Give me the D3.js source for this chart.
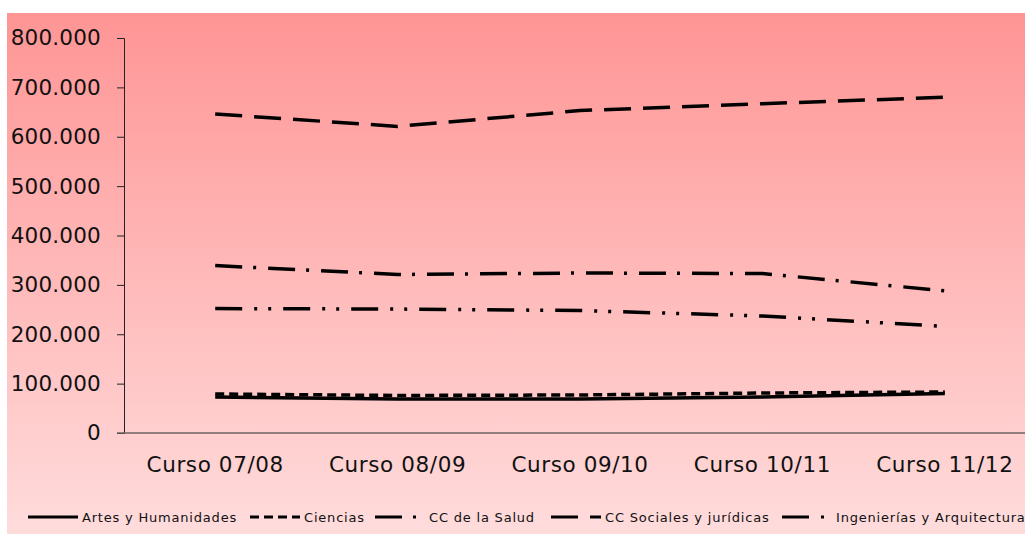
<!DOCTYPE html>
<html><head><meta charset="utf-8">
<script src="https://cdn.jsdelivr.net/npm/d3@7/dist/d3.min.js"></script>
<style>body{margin:0;background:#fff}svg{display:block}</style>
</head><body><svg id="c" width="1025" height="534"></svg>
<script>
const categories = ["Curso 07/08","Curso 08/09","Curso 09/10","Curso 10/11","Curso 11/12"];
const seriesNames = ["Artes y Humanidades","Ciencias","CC de la Salud","CC Sociales y jurídicas","Ingenierías y Arquitectura"];
const artes     = [73000, 69000, 69000, 73000, 80000];
const ciencias  = [79000, 76000, 77000, 81000, 83000];
const salud     = [339000, 321000, 324000, 323000, 288000];
const sociales  = [646000, 621000, 653000, 667000, 680000];
const ingen     = [252000, 251000, 248000, 237000, 216000];
const yTicks = [0,100000,200000,300000,400000,500000,600000,700000,800000];

const seriesData = [artes, ciencias, salud, sociales, ingen];
const dashes = [null, "9,5", "27,11,3,12", "27,12", "27,12,3,11,3,12"];
const FONT = "DejaVu Sans, Verdana, sans-serif";

const svg = d3.select("#c");
const defs = svg.append("defs");
const grad = defs.append("linearGradient").attr("id","bg").attr("x1",0).attr("y1",0).attr("x2",0).attr("y2",1);
grad.append("stop").attr("offset","0%").attr("stop-color","#ff9595");
grad.append("stop").attr("offset","100%").attr("stop-color","#ffdcdc");
svg.append("rect").attr("x",7).attr("y",13).attr("width",1018).attr("height",521).attr("fill","url(#bg)");

const pL = 124, pR = 1036, pT = 38, pB = 433;
const x = d3.scaleBand().domain(categories).range([pL,pR]);
const y = d3.scaleLinear().domain([0,800000]).range([pB,pT]);
const fmt = v => v===0 ? "0" : d3.format(",")(v).replace(/,/g,".");

// y axis
const ya = svg.append("g").attr("transform",`translate(${pL},0)`)
  .call(d3.axisLeft(y).tickValues(yTicks).tickSize(7).tickPadding(16).tickFormat(fmt));
ya.select(".domain").attr("stroke","#222");
ya.selectAll(".tick line").attr("stroke","#222");
ya.selectAll("text").attr("font-family",FONT).attr("font-size",21.5).attr("fill","#111")
  .attr("letter-spacing",0.2);
ya.selectAll(".tick").filter(d=>d===0).select("line").remove();

// x axis
const xa = svg.append("g").attr("transform",`translate(0,${pB})`)
  .call(d3.axisBottom(x).tickSize(0));
xa.select(".domain").remove();
xa.selectAll("text").attr("font-family",FONT).attr("font-size",21.5).attr("fill","#111")
  .attr("letter-spacing",0.6).attr("dy",null).attr("y",39);
svg.append("line").attr("x1",117).attr("x2",1025).attr("y1",pB).attr("y2",pB)
  .attr("stroke","#6e6060").attr("stroke-width",1.6);

const line = d3.line().x((d,i)=>x(categories[i])+x.bandwidth()/2).y(d=>y(d));
seriesData.forEach((s,k)=>{
  svg.append("path").attr("d",line(s)).attr("fill","none").attr("stroke","#000")
    .attr("stroke-width",3.5).attr("stroke-dasharray",dashes[k]);
});

// legend
const legX = [28, 250, 375, 551, 782];
const legY = 517;
seriesNames.forEach((n,k)=>{
  svg.append("line").attr("x1",legX[k]).attr("x2",legX[k]+50).attr("y1",legY).attr("y2",legY)
    .attr("stroke","#000").attr("stroke-width",3).attr("stroke-dasharray",dashes[k]);
  svg.append("text").attr("x",legX[k]+54).attr("y",legY+5).text(n)
    .attr("font-family",FONT).attr("font-size",13).attr("letter-spacing",0.8).attr("fill","#111");
});
</script></body></html>
